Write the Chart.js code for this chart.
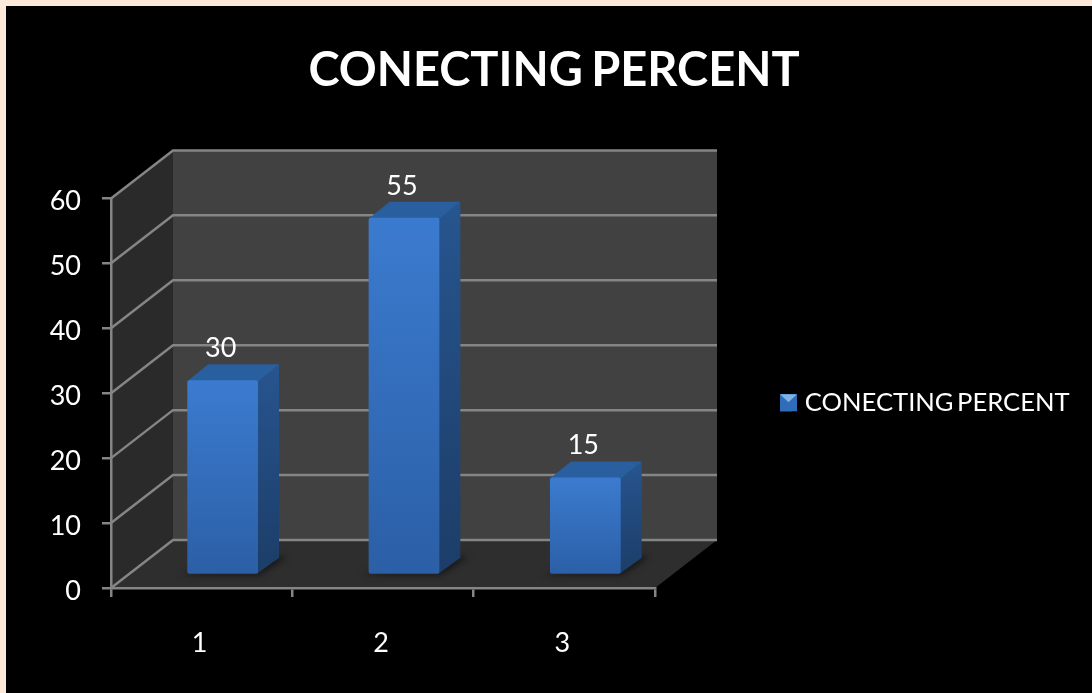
<!DOCTYPE html>
<html>
<head>
<meta charset="utf-8">
<title>CONECTING PERCENT</title>
<script src="https://cdn.jsdelivr.net/npm/chart.js@4"></script>
<style>
  html, body {margin: 0; padding: 0; width: 1092px; height: 693px; overflow: hidden; background: #fde9d9;}
  #panel {position: absolute; left: 6px; top: 6px; right: 0; bottom: 0; background: #000;}
  #chart {position: absolute; left: 0; top: 0; filter: blur(0.7px);}
</style>
</head>
<body>
<div id="panel"></div>
<canvas id="chart" width="1092" height="693"></canvas>
<script>
const categories = ['1', '2', '3'];
const connecting_percent = [30, 55, 15];
const series_name = 'CONECTING PERCENT';
const y_min = 0;
const y_max = 60;
const y_step = 10;

/* depth of the fake 3d box, and of the bars inside it */
const wall_dx = 62, wall_dy = -48;
const bar_dx = 21, bar_dy = -13;
const top_dx = 21, top_dy = -16;

const grid_color = '#858585';
const font_name = 'Lato, Carlito, sans-serif';

function bar_color(c) {
  const chart = c.chart;
  if (!chart.chartArea || !c.parsed) return '#3673c4';
  const y = chart.scales.y;
  const g = chart.ctx.createLinearGradient(0, y.getPixelForValue(c.parsed.y), 0, y.getPixelForValue(0));
  g.addColorStop(0, '#3b7bcf');
  g.addColorStop(1, '#2b5fa6');
  return g;
}

/*_____________________3D_WALLS____________________*/

const walls_plugin = {
  id: 'walls',
  beforeDraw(chart) {
    const ctx = chart.ctx;
    // calibri sets its words closer than lato does
    ctx.wordSpacing = '-3px';
    const {left, right} = chart.chartArea;
    const y = chart.scales.y;
    const y0 = y.getPixelForValue(y_min);
    const y1 = y.getPixelForValue(y_max);
    ctx.save();
    ctx.fillStyle = '#414141';
    ctx.fillRect(left + wall_dx, y1 + wall_dy, right - left, y0 - y1);
    ctx.fillStyle = '#2a2a2a';
    ctx.beginPath();
    ctx.moveTo(left, y0);
    ctx.lineTo(left, y1);
    ctx.lineTo(left + wall_dx, y1 + wall_dy);
    ctx.lineTo(left + wall_dx, y0 + wall_dy);
    ctx.closePath();
    ctx.fill();
    ctx.fillStyle = '#2e2e2e';
    ctx.beginPath();
    ctx.moveTo(left, y0);
    ctx.lineTo(right, y0);
    ctx.lineTo(right + wall_dx, y0 + wall_dy);
    ctx.lineTo(left + wall_dx, y0 + wall_dy);
    ctx.closePath();
    ctx.fill();
    ctx.strokeStyle = grid_color;
    ctx.lineWidth = 2.5;
    y.ticks.forEach(t => {
      const p = y.getPixelForValue(t.value);
      ctx.beginPath();
      ctx.moveTo(left, p);
      ctx.lineTo(left + wall_dx, p + wall_dy);
      ctx.lineTo(right + wall_dx, p + wall_dy);
      ctx.stroke();
    });
    ctx.restore();
  }
};

/*_____________________3D_BARS____________________*/

const bars_plugin = {
  id: 'bars3d',
  beforeDatasetsDraw(chart) {
    const ctx = chart.ctx;
    ctx.save();
    ctx.translate(bar_dx, bar_dy);
    chart.getDatasetMeta(0).data.forEach(bar => {
      const l = bar.x - bar.width / 2;
      const r = bar.x + bar.width / 2;
      // shadow on the floor
      ctx.save();
      ctx.fillStyle = 'rgba(15,15,15,0.75)';
      ctx.filter = 'blur(3px)';
      ctx.beginPath();
      ctx.moveTo(l - 8, bar.base + 1);
      ctx.lineTo(r + 2, bar.base + 1);
      ctx.lineTo(r + top_dx + 8, bar.base + top_dy - 1);
      ctx.lineTo(r, bar.base + top_dy - 1);
      ctx.closePath();
      ctx.fill();
      ctx.restore();
      // side
      const g = ctx.createLinearGradient(0, bar.y + top_dy, 0, bar.base);
      g.addColorStop(0, '#27558f');
      g.addColorStop(1, '#1c3d68');
      ctx.fillStyle = g;
      ctx.beginPath();
      ctx.moveTo(r - 1, bar.y);
      ctx.lineTo(r + top_dx, bar.y + top_dy);
      ctx.lineTo(r + top_dx, bar.base + top_dy);
      ctx.lineTo(r - 1, bar.base);
      ctx.closePath();
      ctx.fill();
      // top
      ctx.fillStyle = '#295f9f';
      ctx.beginPath();
      ctx.moveTo(l, bar.y + 1);
      ctx.lineTo(l + top_dx, bar.y + top_dy);
      ctx.lineTo(r + top_dx, bar.y + top_dy);
      ctx.lineTo(r, bar.y + 1);
      ctx.closePath();
      ctx.fill();
    });
  },
  afterDatasetsDraw(chart) {
    const ctx = chart.ctx;
    const meta = chart.getDatasetMeta(0);
    ctx.fillStyle = '#fff';
    ctx.font = '27px ' + font_name;
    ctx.textAlign = 'center';
    ctx.textBaseline = 'middle';
    meta.data.forEach((bar, i) => {
      ctx.fillText(String(connecting_percent[i]), bar.x - 2, bar.y - 32);
    });
    ctx.restore();
  }
};

/*_____________________LEGEND____________________*/

const legend_plugin = {
  id: 'legend_place',
  afterLayout(chart) {
    // the legend sits beside the box and takes no room from it
    const legend = chart.legend;
    const w = legend.right - legend.left;
    const h = legend.bottom - legend.top;
    legend.left = 770;
    legend.right = legend.left + w;
    legend.top = 380;
    legend.bottom = legend.top + h;
  },
  afterDraw(chart) {
    // marker is wider than the legend's own box, so the text stays close to it
    const box = chart.legend.legendHitBoxes[0];
    const ctx = chart.ctx;
    const x = box.left;
    const y = box.top + (box.height - 17) / 2;
    ctx.save();
    ctx.fillStyle = '#2f6db8';
    ctx.fillRect(x, y, 17, 17);
    ctx.fillStyle = '#7fb2e8';
    ctx.beginPath();
    ctx.moveTo(x, y);
    ctx.lineTo(x + 17, y);
    ctx.lineTo(x + 8.5, y + 8);
    ctx.closePath();
    ctx.fill();
    ctx.restore();
  }
};

new Chart(document.getElementById('chart'), {
  type: 'bar',
  data: {
    labels: categories,
    datasets: [
      {
        label: series_name,
        data: connecting_percent,
        backgroundColor: bar_color,
        borderRadius: 2,
        borderSkipped: false,
        barPercentage: 0.39,
        categoryPercentage: 1,
        clip: false
      }
    ]
  },
  plugins: [walls_plugin, bars_plugin, legend_plugin],
  options: {
    responsive: false,
    animation: false,
    devicePixelRatio: 1,
    layout: {padding: {left: 16, right: 0, top: 0, bottom: 0}},
    plugins: {
      tooltip: {enabled: false},
      title: {
        display: true,
        text: series_name,
        color: '#fff',
        font: {family: font_name, size: 47, weight: 'bold'},
        padding: {top: 43, bottom: 99}
      },
      legend: {
        position: 'chartArea',
        align: 'start',
        labels: {
          color: '#fff',
          font: {family: font_name, size: 25.6},
          boxWidth: 12,
          boxHeight: 17,
          padding: 10
        }
      }
    },
    scales: {
      x: {
        offset: true,
        afterFit(s) {s.height = 105},
        grid: {offset: true, drawOnChartArea: false, color: grid_color, tickLength: 9, lineWidth: 2.5},
        border: {color: grid_color, width: 2.5},
        ticks: {color: '#fff', padding: 30, labelOffset: -2, font: {family: font_name, size: 27}}
      },
      y: {
        min: y_min,
        max: y_max,
        afterFit(s) {s.width = 95},
        grid: {drawOnChartArea: false, color: grid_color, tickLength: 9, lineWidth: 2.5},
        border: {color: grid_color, width: 2.5},
        ticks: {stepSize: y_step, color: '#fff', padding: 21, labelOffset: 3, font: {family: font_name, size: 27}}
      },
      spacer: {
        position: 'right',
        afterFit(s) {s.width = 437},
        grid: {display: false},
        border: {display: false},
        ticks: {display: false}
      }
    }
  }
});
</script>
</body>
</html>
